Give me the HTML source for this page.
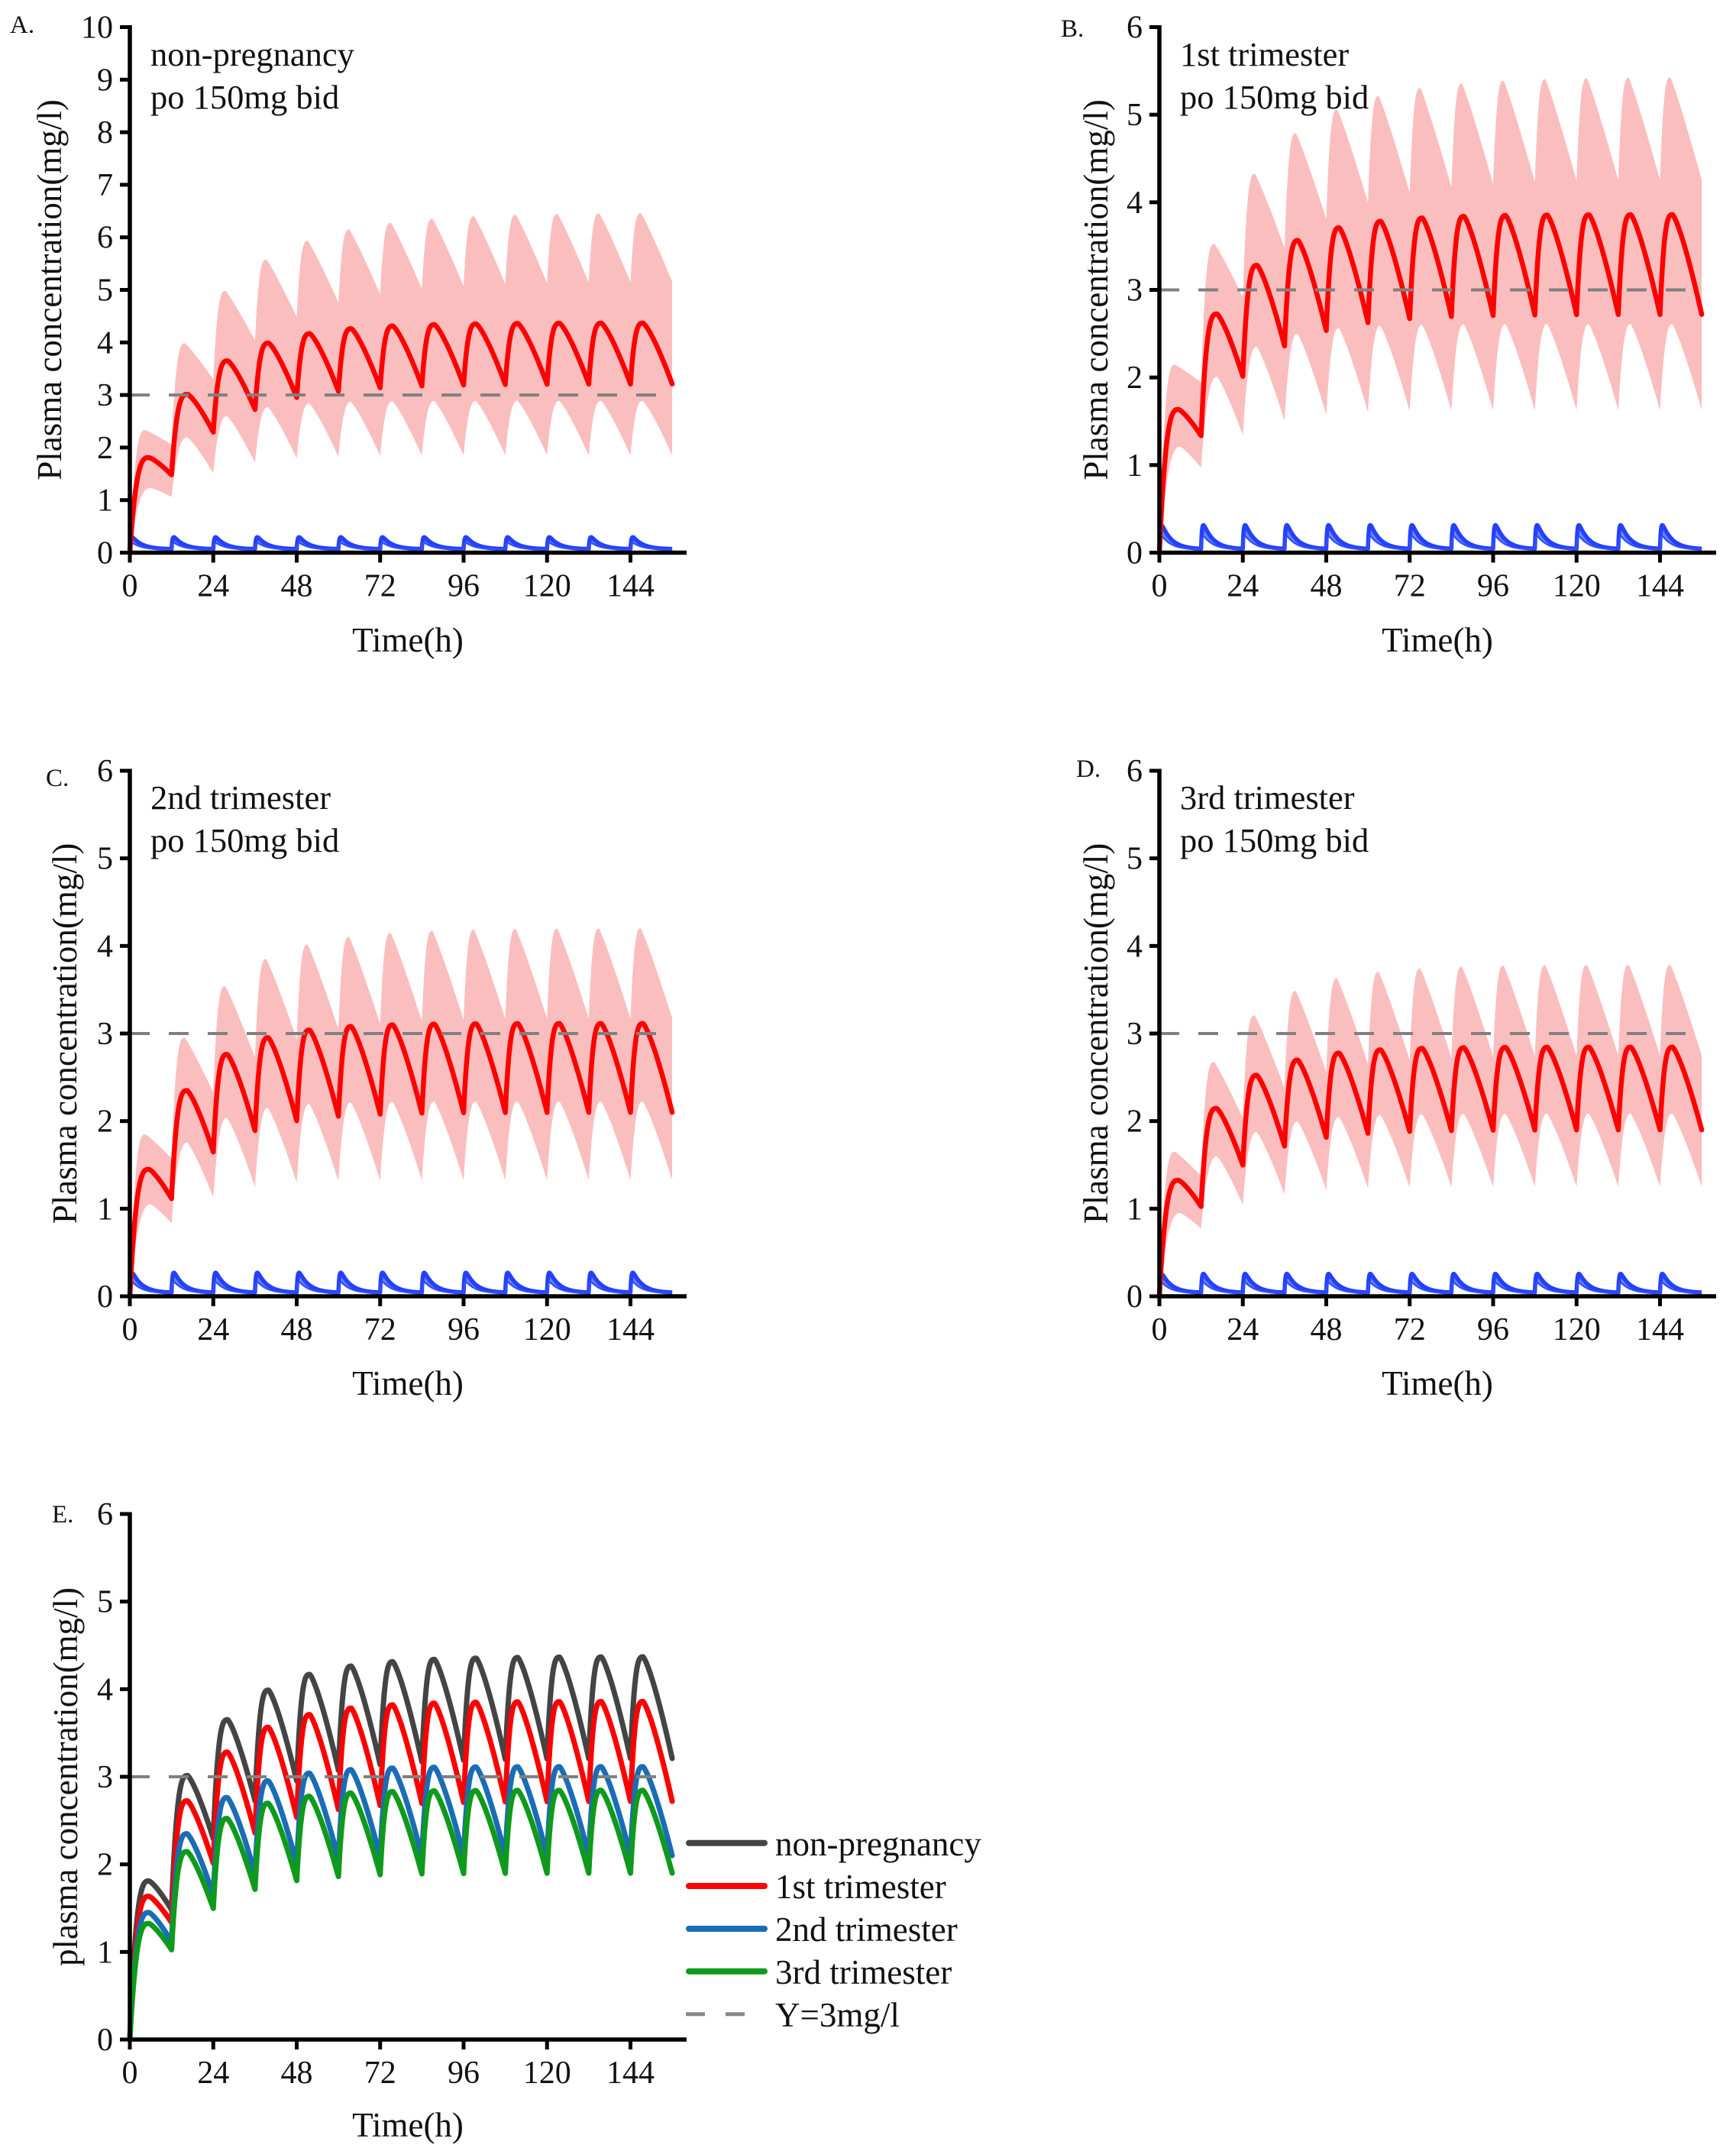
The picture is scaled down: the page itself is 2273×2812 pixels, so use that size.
<!DOCTYPE html>
<html>
<head>
<meta charset="utf-8">
<style>
html,body{margin:0;padding:0;background:#fff;}
svg{display:block;}
text{font-family:"Liberation Serif","DejaVu Serif",serif;fill:#111;}
.tk{font-size:42px;}
.lab{font-size:45px;}
.ann{font-size:44.5px;}
.let{font-size:33px;}
.leg{font-size:45px;}
</style>
</head>
<body>
<svg id="c" xmlns="http://www.w3.org/2000/svg" width="2273" height="2812" viewBox="0 0 2273 2812">
<rect x="0" y="0" width="2273" height="2812" fill="#fff"/>
<g id="plots"></g>

<!-- Panel A -->
<text class="let" x="13" y="43">A.</text>
<g class="tk" text-anchor="end">
<text x="148" y="737.5">0</text><text x="148" y="668.7">1</text><text x="148" y="599.9">2</text>
<text x="148" y="531.1">3</text><text x="148" y="462.3">4</text><text x="148" y="393.5">5</text>
<text x="148" y="324.7">6</text><text x="148" y="255.9">7</text><text x="148" y="187.1">8</text>
<text x="148" y="118.3">9</text><text x="148" y="49.5">10</text>
</g>
<g class="tk" text-anchor="middle">
<text x="170" y="780.5">0</text><text x="279.2" y="780.5">24</text><text x="388.5" y="780.5">48</text>
<text x="497.7" y="780.5">72</text><text x="607" y="780.5">96</text><text x="716.2" y="780.5">120</text>
<text x="825.5" y="780.5">144</text>
</g>
<text class="lab" x="534" y="853" text-anchor="middle">Time(h)</text>
<text class="lab" text-anchor="middle" transform="translate(80,379.5) rotate(-90)">Plasma concentration(mg/l)</text>
<text class="ann" x="197" y="86">non-pregnancy</text>
<text class="ann" x="197" y="142">po 150mg bid</text>

<!-- Panel B -->
<text class="let" x="1389" y="48">B.</text>
<g class="tk" text-anchor="end">
<text x="1496" y="737.5">0</text><text x="1496" y="622.8">1</text><text x="1496" y="508.2">2</text>
<text x="1496" y="393.5">3</text><text x="1496" y="278.8">4</text><text x="1496" y="164.2">5</text>
<text x="1496" y="49.5">6</text>
</g>
<g class="tk" text-anchor="middle">
<text x="1518" y="780.5">0</text><text x="1627.2" y="780.5">24</text><text x="1736.5" y="780.5">48</text>
<text x="1845.7" y="780.5">72</text><text x="1955" y="780.5">96</text><text x="2064.2" y="780.5">120</text>
<text x="2173.5" y="780.5">144</text>
</g>
<text class="lab" x="1882" y="853" text-anchor="middle">Time(h)</text>
<text class="lab" text-anchor="middle" transform="translate(1450,379.5) rotate(-90)">Plasma concentration(mg/l)</text>
<text class="ann" x="1545" y="86">1st trimester</text>
<text class="ann" x="1545" y="142">po 150mg bid</text>

<!-- Panel C -->
<text class="let" x="60" y="1029">C.</text>
<g class="tk" text-anchor="end">
<text x="148" y="1711">0</text><text x="148" y="1596.3">1</text><text x="148" y="1481.7">2</text>
<text x="148" y="1367">3</text><text x="148" y="1252.3">4</text><text x="148" y="1137.7">5</text>
<text x="148" y="1023">6</text>
</g>
<g class="tk" text-anchor="middle">
<text x="170" y="1754">0</text><text x="279.2" y="1754">24</text><text x="388.5" y="1754">48</text>
<text x="497.7" y="1754">72</text><text x="607" y="1754">96</text><text x="716.2" y="1754">120</text>
<text x="825.5" y="1754">144</text>
</g>
<text class="lab" x="534" y="1826" text-anchor="middle">Time(h)</text>
<text class="lab" text-anchor="middle" transform="translate(100,1353) rotate(-90)">Plasma concentration(mg/l)</text>
<text class="ann" x="197" y="1059">2nd trimester</text>
<text class="ann" x="197" y="1115">po 150mg bid</text>

<!-- Panel D -->
<text class="let" x="1409" y="1017">D.</text>
<g class="tk" text-anchor="end">
<text x="1496" y="1711">0</text><text x="1496" y="1596.3">1</text><text x="1496" y="1481.7">2</text>
<text x="1496" y="1367">3</text><text x="1496" y="1252.3">4</text><text x="1496" y="1137.7">5</text>
<text x="1496" y="1023">6</text>
</g>
<g class="tk" text-anchor="middle">
<text x="1518" y="1754">0</text><text x="1627.2" y="1754">24</text><text x="1736.5" y="1754">48</text>
<text x="1845.7" y="1754">72</text><text x="1955" y="1754">96</text><text x="2064.2" y="1754">120</text>
<text x="2173.5" y="1754">144</text>
</g>
<text class="lab" x="1882" y="1826" text-anchor="middle">Time(h)</text>
<text class="lab" text-anchor="middle" transform="translate(1450,1353) rotate(-90)">Plasma concentration(mg/l)</text>
<text class="ann" x="1545" y="1059">3rd trimester</text>
<text class="ann" x="1545" y="1115">po 150mg bid</text>

<!-- Panel E -->
<text class="let" x="68" y="1993">E.</text>
<g class="tk" text-anchor="end">
<text x="148" y="2684">0</text><text x="148" y="2569.3">1</text><text x="148" y="2454.7">2</text>
<text x="148" y="2340">3</text><text x="148" y="2225.3">4</text><text x="148" y="2110.7">5</text>
<text x="148" y="1996">6</text>
</g>
<g class="tk" text-anchor="middle">
<text x="170" y="2727">0</text><text x="279.2" y="2727">24</text><text x="388.5" y="2727">48</text>
<text x="497.7" y="2727">72</text><text x="607" y="2727">96</text><text x="716.2" y="2727">120</text>
<text x="825.5" y="2727">144</text>
</g>
<text class="lab" x="534" y="2797" text-anchor="middle">Time(h)</text>
<text class="lab" text-anchor="middle" transform="translate(101,2326) rotate(-90)">plasma concentration(mg/l)</text>

<!-- Legend E -->
<line x1="902" y1="2412.7" x2="1001" y2="2412.7" stroke="#444444" stroke-width="8" stroke-linecap="round"/>
<line x1="902" y1="2469" x2="1001" y2="2469" stroke="#ff0000" stroke-width="8" stroke-linecap="round"/>
<line x1="902" y1="2525" x2="1001" y2="2525" stroke="#1a6db5" stroke-width="8" stroke-linecap="round"/>
<line x1="902" y1="2580.7" x2="1001" y2="2580.7" stroke="#0f9a1c" stroke-width="8" stroke-linecap="round"/>
<line x1="898" y1="2636.7" x2="923" y2="2636.7" stroke="#8a8a8a" stroke-width="5"/>
<line x1="950" y1="2636.7" x2="975" y2="2636.7" stroke="#8a8a8a" stroke-width="5"/>
<g class="leg">
<text x="1015" y="2429">non-pregnancy</text>
<text x="1015" y="2485">1st trimester</text>
<text x="1015" y="2541">2nd trimester</text>
<text x="1015" y="2597">3rd trimester</text>
<text x="1015" y="2653">Y=3mg/l</text>
</g>
</svg>

<script>
(function(){
var NS='http://www.w3.org/2000/svg';
var layer=document.getElementById('plots');
function el(tag,attrs){var e=document.createElementNS(NS,tag);for(var k in attrs){e.setAttribute(k,attrs[k]);}layer.appendChild(e);return e;}
var SX=4.552, DT=0.04, TEND=156;
function cv(t,c){
  var n=Math.floor(t/12); if(n>12)n=12; if(n<0)n=0;
  var s=t-12*n;
  var rn=Math.pow(c.r,n);
  var S=(n===0)?0:(c.Tss-(c.Tss-c.T1)*Math.pow(c.r,n-1));
  var E=c.Tss-(c.Tss-c.T1)*rn;
  var P=c.Pss-(c.Pss-c.P1)*rn;
  var tp=c.tps+(c.tp1-c.tps)*rn;
  if(s<=tp){var u=s/tp;return S+(P-S)*(1-Math.pow(1-u,c.q||3));}
  var u2=(s-tp)/(12-tp); if(u2>1)u2=1;
  return P-(P-E)*Math.pow(u2,c.p||1.3);
}
function bv(t){var v=0;for(var n=0;n<=12;n++){var s=t-12*n;if(s<0)break;v+=Math.exp(-0.35*s)-Math.exp(-4*s);}return v/0.723;}
function pts(fn,x0,y0,ys){var a=[];var N=Math.round(TEND/DT);for(var i=0;i<=N;i++){var t=i*DT;a.push((x0+t*SX).toFixed(2)+','+(y0-fn(t)*ys).toFixed(2));}return a;}
function bpts(x0,y0,amp,off){var a=[];var N=Math.round(TEND/DT);for(var i=0;i<=N;i++){var t=i*DT;a.push((x0+t*SX).toFixed(2)+','+(y0-off-bv(t)*amp).toFixed(2));}return a;}
function dashed(x0,y0,ys){
  el('line',{x1:x0,y1:(y0-3*ys).toFixed(2),x2:(x0+156*SX).toFixed(2),y2:(y0-3*ys).toFixed(2),stroke:'#808080','stroke-width':4,'stroke-dasharray':'26 25'});
}
function axes(x0,y0,ytop,ymax,ys){
  el('path',{d:'M'+x0+','+(ytop-2.5)+'V'+y0+'H'+(x0+729),stroke:'#000','stroke-width':5.5,fill:'none','stroke-linejoin':'miter'});
  for(var v=0;v<=ymax;v++){var y=(y0-v*ys).toFixed(2);el('line',{x1:x0-13,y1:y,x2:x0,y2:y,stroke:'#000','stroke-width':5});}
  for(var t=0;t<=144;t+=24){var x=(x0+t*SX).toFixed(2);el('line',{x1:x,y1:y0,x2:x,y2:y0+13,stroke:'#000','stroke-width':5});}
}
function panel(P){
  var x0=P.x0,y0=P.y0,ys=P.ys;
  var U=pts(function(t){return cv(t,P.up);},x0,y0,ys);
  var L=pts(function(t){return cv(t,P.lo);},x0,y0,ys).reverse();
  el('polygon',{points:U.concat(L).join(' '),fill:'#fbbebe',stroke:'none'});
  var BU=bpts(x0,y0,P.bamp,4.5);
  var BL=bpts(x0,y0,P.bamp*0.55,4.0);
  el('polygon',{points:BU.concat(BL.slice().reverse()).join(' '),fill:'#6f86ff',stroke:'none'});
  el('polyline',{points:BU.join(' '),fill:'none',stroke:'#2440ff','stroke-width':5.5,'stroke-linejoin':'round'});
  el('polyline',{points:BL.join(' '),fill:'none',stroke:'#3050ff','stroke-width':2.5,'stroke-linejoin':'round'});
  el('polyline',{points:pts(function(t){return cv(t,P.med);},x0,y0,ys).join(' '),fill:'none',stroke:'#ff0000','stroke-width':6.5,'stroke-linejoin':'round','stroke-linecap':'round'});
  dashed(x0,y0,ys);
  axes(x0,y0,P.ytop,P.ymax,ys);
}
function mk(P1,Pss,T1,Tss,r,tp1,tps,p,q){return {P1:P1,Pss:Pss,T1:T1,Tss:Tss,r:r,tp1:tp1,tps:tps,p:p,q:q};}
var A={med:mk(1.81,4.37,1.48,3.21,0.53,5.5,3.6,1.3,3),up:mk(2.33,6.47,2.06,5.16,0.60,4.5,3.0,1.1,3),lo:mk(1.23,2.89,1.06,1.85,0.42,6,3.5,1.2,2.5)};
var B={med:mk(1.635,3.86,1.335,2.72,0.51,5.5,3.6,1.3,3),up:mk(2.145,5.43,1.945,4.26,0.58,4.5,3.0,1.1,3),lo:mk(1.21,2.61,0.97,1.625,0.43,6,3.5,1.2,2.5)};
var C={med:mk(1.45,3.115,1.115,2.10,0.46,5.5,3.6,1.3,3),up:mk(1.85,4.2,1.575,3.175,0.53,4.5,3.0,1.1,3),lo:mk(1.05,2.225,0.835,1.325,0.40,6,3.5,1.2,2.5)};
var D={med:mk(1.325,2.845,1.025,1.90,0.46,5.5,3.6,1.3,3),up:mk(1.65,3.785,1.375,2.75,0.52,4.5,3.0,1.1,3),lo:mk(0.95,2.085,0.775,1.25,0.43,6,3.5,1.2,2.5)};
panel({x0:170,y0:723.5,ytop:35.5,ymax:10,ys:68.8,med:A.med,up:A.up,lo:A.lo,bamp:15.5});
panel({x0:1518,y0:723.5,ytop:35.5,ymax:6,ys:114.667,med:B.med,up:B.up,lo:B.lo,bamp:31});
panel({x0:170,y0:1697,ytop:1009,ymax:6,ys:114.667,med:C.med,up:C.up,lo:C.lo,bamp:26});
panel({x0:1518,y0:1697,ytop:1009,ymax:6,ys:114.667,med:D.med,up:D.up,lo:D.lo,bamp:24.5});
// Panel E
var ex0=170,ey0=2670,eys=114.667;
var ser=[[A.med,'#444444'],[B.med,'#ff0000'],[C.med,'#1a6db5'],[D.med,'#0f9a1c']];
for(var i=0;i<ser.length;i++){
  (function(c,col){
    el('polyline',{points:pts(function(t){return cv(t,c);},ex0,ey0,eys).join(' '),fill:'none',stroke:col,'stroke-width':7,'stroke-linejoin':'round','stroke-linecap':'round'});
  })(ser[i][0],ser[i][1]);
}
dashed(ex0,ey0,eys);
axes(ex0,ey0,1982,6,eys);
})();
</script>
</body>
</html>
